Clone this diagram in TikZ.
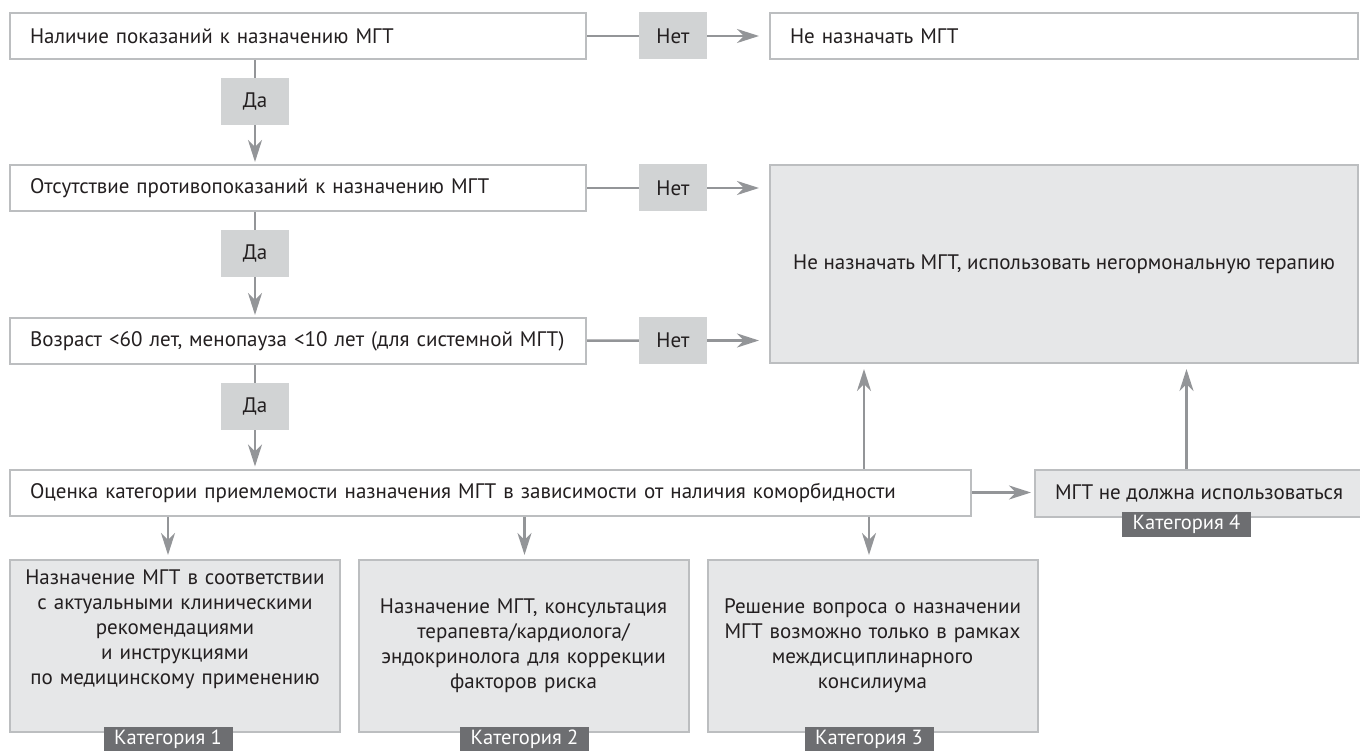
\documentclass[tikz,border=0pt]{standalone}
\usepackage{fontspec}
\setmainfont{PT Sans}
\usetikzlibrary{
    arrows.meta,
    positioning
}
\definecolor{boxline}{HTML}{BCBEC0}
\definecolor{arrowgray}{HTML}{939598}
\definecolor{answerfill}{HTML}{D1D3D4}
\definecolor{resultfill}{HTML}{E6E7E8}
\definecolor{catfill}{HTML}{6D6E71}
\definecolor{textdark}{HTML}{231F20}
\tikzset{
    every node/.style={font=\fontsize{21}{25}\selectfont, text=textdark},
    question/.style={draw=boxline, line width=2pt, fill=white, inner xsep=20pt,
        minimum height=46pt, text width=#1, align=left},
    answer/.style={fill=answerfill, minimum width=68pt, minimum height=47pt, inner sep=0pt},
    result/.style={draw=boxline, line width=2pt, fill=resultfill, inner xsep=20pt,
        minimum width=#1, align=center},
    catbox/.style={result=330pt, inner xsep=8pt, text width=314pt, minimum height=172pt},
    catlabel/.style={fill=catfill, text=white, minimum width=129pt, minimum height=25pt,
        inner sep=0pt, font=\fontsize{20.5}{22}\selectfont},
    link/.style={draw=arrowgray, line width=2.5pt},
    arrowline/.style={link, -{Stealth[length=22pt, width=14pt, inset=7pt]}}
}

\begin{document}
\begin{tikzpicture}[x=1pt, y=-1pt]
    \useasboundingbox (0, 0) rectangle (1360, 751);
    \node[question=536pt] (qA) at (298, 36) {Наличие показаний к назначению МГТ};
    \node[question=536pt] (qB) at (298, 188) {Отсутствие противопоказаний к назначению МГТ};
    \node[question=536pt] (qC) at (298, 341) {Возраст <60 лет, менопауза <10 лет (для системной МГТ)};
    \node[question=921pt] (qD) at (490.5, 492.5) {Оценка категории приемлемости назначения МГТ в зависимости от наличия коморбидности};
    \node[question=548pt] (rA) at (1064, 36) {Не назначать МГТ};
    \node[result=588pt, minimum height=198pt] (rB) at (1064, 264) {Не назначать МГТ, использовать негормональную терапию};
    \node[result=318pt, minimum height=47pt] (rE) at (1199, 493.5) {МГТ не должна использоваться};
    \foreach \i/\y in {1/36, 2/188, 3/340.5} {
        \node[answer] (no\i) at (673, \y) {Нет};
    }
    \foreach \i/\y in {1/101.5, 2/253.5, 3/406.5} {
        \node[answer] (yes\i) at (255, \y) {Да};
    }
    \node[catbox, text depth=137pt] (cat1) at (175, 646) {Назначение МГТ в соответствии\\с актуальными клиническими\\рекомендациями\\и инструкциями\\по медицинскому применению};
    \node[catbox] (cat2) at (523.5, 646) {Назначение МГТ, консультация\\терапевта/кардиолога/\\эндокринолога для коррекции\\факторов риска};
    \node[catbox] (cat3) at (872.5, 646) {Решение вопроса о назначении\\МГТ возможно только в рамках\\междисциплинарного\\консилиума};
    \foreach \i/\x in {1/168, 2/524.5, 3/869} {
        \node[catlabel] (tag\i) at (\x, 739) {Категория \i};
    }
    \node[catlabel] (tag4) at (1186.5, 524) {Категория 4};

    \draw[link] (qA) -- (no1);
    \draw[link] (qB) -- (no2);
    \draw[link] (qC) -- (no3);
    \draw[arrowline, shorten >=10pt] (no1) -- (rA);
    \draw[arrowline, shorten >=10pt] (no2) -- (no2 -| rB.west);
    \draw[arrowline, shorten >=10pt] (no3) -- (no3 -| rB.west);
    \draw[link] (qA.south -| yes1) -- (yes1);
    \draw[arrowline, shorten >=2pt] (yes1) -- (yes1 |- qB.north);
    \draw[link] (qB.south -| yes2) -- (yes2);
    \draw[arrowline, shorten >=2pt] (yes2) -- (yes2 |- qC.north);
    \draw[link] (qC.south -| yes3) -- (yes3);
    \draw[arrowline, shorten >=2pt] (yes3) -- (yes3 |- qD.north);
    \draw[arrowline, shorten >=3pt] (qD.east) -- (qD.east -| rE.west);
    \draw[arrowline, shorten >=5pt] ([xshift=373.5pt]qD.north) -- ([xshift=373.5pt]qD.north |- rB.south);
    \draw[arrowline, shorten >=5pt] (rE.north -| tag4) -- (tag4 |- rB.south);
    \foreach \i in {1,2,3} {
        \draw[arrowline, shorten >=4pt] (qD.south -| tag\i) -- (tag\i |- cat\i.north);
    }
\end{tikzpicture}
\end{document}
